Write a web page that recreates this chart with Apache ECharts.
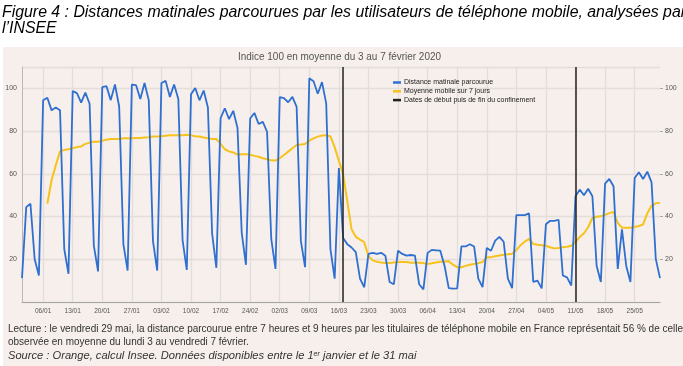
<!DOCTYPE html>
<html><head><meta charset="utf-8">
<script src="https://cdn.jsdelivr.net/npm/echarts@6/dist/echarts.min.js"></script>
<style>html,body{margin:0;padding:0;background:#fff}#c{width:683px;height:366px}</style>
</head><body><div id="c"></div>
<script>
// Categories: every day from 01/01/2020 to 31/05/2020
const days = [];
(function(){ const t0 = Date.UTC(2020,0,1); for(let i=0;i<152;i++){ const x=new Date(t0+i*86400000); days.push(String(x.getUTCDate()).padStart(2,'0')+'/'+String(x.getUTCMonth()+1).padStart(2,'0')); } })();

const tickLabels = ['06/01','13/01','20/01','27/01','03/02','10/02','17/02','24/02','02/03','09/03','16/03','23/03','30/03','06/04','13/04','20/04','27/04','04/05','11/05','18/05','25/05'];
const yTicks = [20,40,60,80,100];

const distance = [
11.2,44.4,46,20,12.4,94.4,95.6,89.7,91,89.7,24.8,13.2,
98.7,97.8,93.3,98,92.8,26.4,14.3,
100.6,101,94.5,101.8,91.5,27,14.7,
101.8,101.5,95,102.5,94.5,28.5,14.7,
102.5,103.5,96,101.8,95,29,15,
97.2,100.2,94.4,99,91,32,16,
86,90.7,85.6,89.5,81.5,32.5,17.4,
85.9,88.5,83.3,84.3,79.7,29.4,15.5,
95.9,95.4,93.5,96,91.3,28.6,16.3,
104.7,103.3,97.5,102.9,93,24.8,10.9,
62.7,30,27,25.5,23.3,10.9,6.9,
22.5,23,22.5,23,21.7,9.4,8.3,
24,22.5,21.7,22,21.7,8.3,5.9,
23,24.4,24.2,24,17,6.5,6.3,
6.4,26,26,27,26,10.9,7,
25.3,24,28.7,30.5,28.2,10.9,6.5,
40.7,40.7,40.7,41.5,9.4,10,6.4,
36.4,38,38,38.5,12.4,11.5,7.7,
49.5,52.6,50,53,49.5,17,9.4,
55.4,57.6,54.2,15.5,34,17,9.4,
58,60.7,57.6,61,56,20.2,11.2
];

const moyenne = [
null,null,null,null,null,null,46,57,64,70.5,71.2,71.5,
72,72.5,72.8,74,74.6,75,75,
75.5,76,76.3,76.3,76.3,76.6,76.6,
76.6,76.8,76.8,77,77.1,77.5,77.5,
77.6,77.8,78,78,78,78.1,78.3,
78,77.6,77.5,77,76.6,76.3,76.3,
74,71.5,70.5,70,69,69.2,69.2,
68.9,68.4,68,67.3,66.8,66.3,66.2,
67.3,68.8,70.4,72,73.5,73.7,74,
75.5,76.6,77.4,77.9,78.1,77.5,72.5,
66,60,47,34,30.5,29.2,28,
21.5,19.5,18.8,18.5,18.3,18.2,18.5,
18.7,18.7,18.7,18.4,18.4,18.4,18.2,
17.8,18.1,18.5,18.8,19,19.1,17.5,
16.3,16.3,16.9,17.4,17.8,18.2,18.7,
21,21,21.4,21.8,22.1,22.3,22.6,
24.3,26.6,28.3,29.5,27.2,26.8,26.6,
26.3,25.6,25.1,25.3,25.6,25.9,26.3,
28.2,30.4,32.2,35,39.3,39.9,40.1,
40.8,41.6,42.2,37,34.8,34.8,34.8,
35.1,35.6,36.3,41.5,45,46.2,46.4
];

const confinement = ['17/03','11/05'];

const seriesNames = ['Distance matinale parcourue','Moyenne mobile sur 7 jours','Dates de début puis de fin du confinement'];

const titleLine1 = 'Figure 4 : Distances matinales parcourues par les utilisateurs de téléphone mobile, analysées par';
const titleLine2 = 'l’INSEE';
const subtitle = 'Indice 100 en moyenne du 3 au 7 février 2020';
const lecture1 = 'Lecture : le vendredi 29 mai, la distance parcourue entre 7 heures et 9 heures par les titulaires de téléphone mobile en France représentait 56 % de celle';
const lecture2 = 'observée en moyenne du lundi 3 au vendredi 7 février.';
const source = 'Source : Orange, calcul Insee. Données disponibles entre le 1er janvier et le 31 mai';

const cv = document.createElement('canvas').getContext('2d');
function fit(text, font, target){ cv.font = font; const w = cv.measureText(text).width; return target / w; }

const fTitle = 'italic 16px "Liberation Sans", sans-serif';
const fSub = '10px "Liberation Sans", sans-serif';
const fLect = '10px "Liberation Sans", sans-serif';
const fSrc = 'italic 11px "Liberation Sans", sans-serif';
const titleScale = fit(titleLine1, fTitle, 684);

function txt(text, x, y, font, fill, scale){
  return {type:'text', x:x, y:y, scaleX:scale||1, originX:0, style:{text:text, font:font, fill:fill, textVerticalAlign:'middle'}, z:10};
}

const isTick = (i, v) => tickLabels.indexOf(days[i]) >= 0;

const chart = echarts.init(document.getElementById('c'), null, {renderer:'canvas'});
chart.setOption({
  backgroundColor:'#ffffff',
  animation:false,
  graphic:[
    {type:'rect', shape:{x:3, y:47, width:680, height:319}, style:{fill:'#f6efeb'}, z:-10, silent:true},
    txt(titleLine1, 2, 13, fTitle, '#000', titleScale),
    txt(titleLine2, 2, 29, fTitle, '#000', titleScale),
    txt(subtitle, 238, 57, fSub, '#555', fit(subtitle, fSub, 203)),
    txt(lecture1, 8, 329, fLect, '#333', fit(lecture1, fLect, 675)),
    txt(lecture2, 8, 342, fLect, '#333', fit(lecture1, fLect, 675)),
    {type:'text', x:8, y:356, scaleX: fit(source, fSrc, 412), originX:0, z:10,
     style:{text:'{a|Source : Orange, calcul Insee. Données disponibles entre le 1}{s|er}{a| janvier et le 31 mai}', fill:'#333', textVerticalAlign:'middle',
       rich:{a:{font:fSrc, fill:'#333'}, s:{font:'italic 7px "Liberation Sans", sans-serif', fill:'#333', verticalAlign:'top', padding:[0,0,4,0]}}}}
  ],
  legend:{
    orient:'vertical', left:393, top:79, padding:0, itemGap:1.8,
    itemWidth:8, itemHeight:2.5, icon:'rect',
    textStyle:{fontSize:7, color:'#222', fontFamily:'"Liberation Sans", sans-serif', padding:[0,0,0,-2]},
    data:seriesNames
  },
  grid:{left:22, right:23, top:67, bottom:64},
  xAxis:{
    type:'category', data:days, boundaryGap:false,
    axisLine:{lineStyle:{color:'#a8a4a1', width:1}},
    axisTick:{show:false},
    axisLabel:{interval:isTick, fontSize:6.5, color:'#555', margin:6, fontFamily:'"Liberation Sans", sans-serif'},
    splitLine:{show:true, interval:isTick, lineStyle:{color:'#e3dedb', width:1.3}}
  },
  yAxis:[
    {type:'value', min:0, max:110, interval:20, position:'left',
     axisLine:{show:true, lineStyle:{color:'#bdb8b5', width:1}},
     axisTick:{show:false},
     axisLabel:{formatter:v => (v===0||v===110)?'':String(v), fontSize:7, color:'#555', margin:5, fontFamily:'"Liberation Sans", sans-serif'},
     splitLine:{lineStyle:{color:'#e3dedb', width:1.3}}},
    {type:'value', min:0, max:110, interval:20, position:'right',
     axisLine:{show:false},
     axisTick:{show:true, length:3, customValues:yTicks, lineStyle:{color:'#aaa'}},
     axisLabel:{customValues:yTicks, formatter:v => (v===0||v===110)?'':String(v), fontSize:7, color:'#555', margin:5, fontFamily:'"Liberation Sans", sans-serif'},
     splitLine:{show:false}}
  ],
  series:[
    {name:seriesNames[0], type:'line', data:distance, symbol:'none', color:'#2f6fd0', lineStyle:{width:1.8}, z:3},
    {name:seriesNames[1], type:'line', data:moyenne, symbol:'none', color:'#f8c21c', lineStyle:{width:2}, z:2},
    {name:seriesNames[2], type:'line', data:[], symbol:'none', color:'#222222', lineStyle:{width:2}, z:4,
     markLine:{silent:true, symbol:['none','none'], label:{show:false}, lineStyle:{color:'#222222', width:1.5, type:'solid'},
       data:confinement.map(c => ({xAxis:c}))}}
  ]
});
</script>
</body></html>
